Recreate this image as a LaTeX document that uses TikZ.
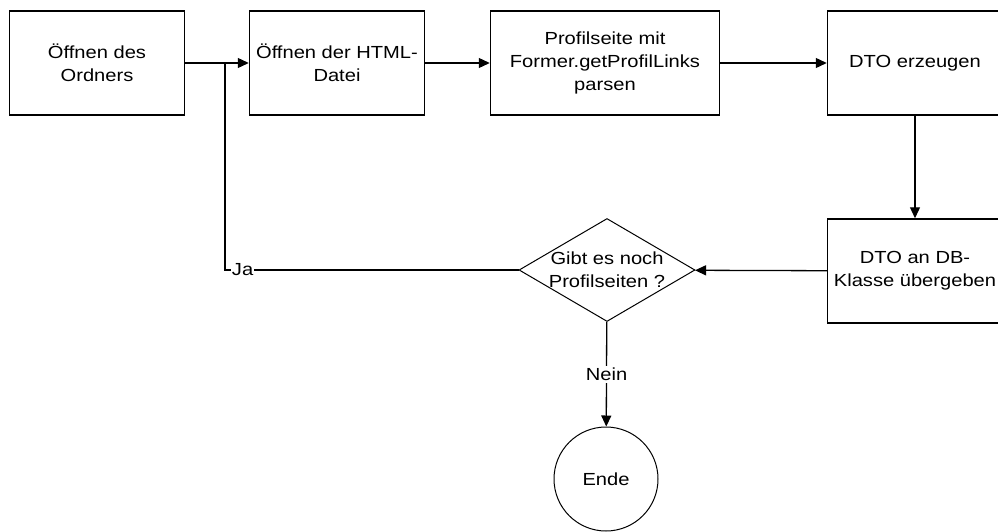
\documentclass[tikz,border=0pt]{standalone}
\usepackage{fontspec}
\setmainfont[FakeStretch=1.15]{Liberation Sans}
\usetikzlibrary{shapes.geometric,arrows.meta}
\begin{document}
\begin{tikzpicture}[x=1pt,y=-1pt,
  font=\fontsize{17.5}{23}\selectfont,
  box/.style={rectangle,draw,line width=1.5pt,minimum width=175pt,minimum height=104pt,align=center,inner sep=2pt},
  frage/.style={diamond,draw,line width=1pt,aspect=1.7,minimum width=176pt,minimum height=103pt,align=center,inner xsep=-16pt,inner ysep=0pt},
  ende/.style={circle,draw,line width=1pt,minimum size=104pt,inner sep=0pt},
  pfeil/.style={-{Triangle[length=11pt,width=10pt]},line width=1.3pt},
  linie/.style={line width=1.3pt}]
\useasboundingbox (0,0) rectangle (998,532);
\node [box] (ordner) at (97,63) {Öffnen des\\Ordners};
\node [box] (html) at (337,63) {Öffnen der HTML-\\Datei};
\node [box,minimum width=229pt] (parsen) at (605,63) {Profilseite mit\\Former.getProfilLinks\\parsen};
\node [box] (dto) at (915,63) {DTO erzeugen};
\node [box] (db) at (915,271) {DTO an DB-\\Klasse übergeben};
\node [frage] (frage) at (607,270) {Gibt es noch\\Profilseiten ?};
\node [ende] (ende) at (606,479) {Ende};
\coordinate (knick) at (225,63);
\draw [pfeil] (ordner) -- (html);
\draw [pfeil] (html) -- (parsen);
\draw [pfeil] (parsen) -- (dto);
\draw [pfeil] (dto) -- (db);
\draw [pfeil] (db) -- (frage);
\draw [linie] (frage.west) -- (frage.west -| knick)
  node [pos=0.94,fill=white,inner sep=1pt] {Ja} -- (knick);
\draw [pfeil] (frage) -- node [fill=white,inner sep=2pt] {Nein} (ende);
\end{tikzpicture}
\end{document}
